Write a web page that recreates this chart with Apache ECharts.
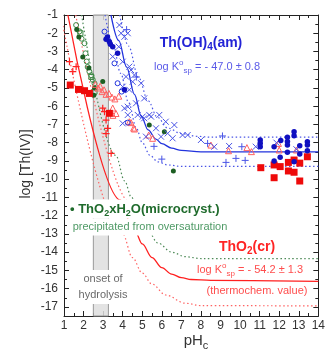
<!DOCTYPE html>
<html><head><meta charset="utf-8">
<script src="https://cdn.jsdelivr.net/npm/echarts@6/dist/echarts.min.js"></script>
<style>html,body{margin:0;padding:0;background:#fff}#c{width:328px;height:354px}</style>
</head><body><div id="c"></div>
<script>
// ---------- axis ticks ----------
const xTicks = [1,2,3,4,5,6,7,8,9,10,11,12,13,14];
const yTicks = [-1,-2,-3,-4,-5,-6,-7,-8,-9,-10,-11,-12,-13,-14,-15,-16,-17];
const yMin = -17.5, yMax = -1;
const hydrolysisBand = [2.5, 3.27];

// ---------- curves ----------
const thOH4Fit   = [[3.4,-1],[3.8,-2.4],[4.2,-3.85],[4.6,-5.35],[4.95,-6.55],[5.3,-7.3],[5.7,-7.8],[6.0,-8.05],[6.5,-8.3],[7.0,-8.42],[8.0,-8.5],[14,-8.5]];
const thOH4Upper = [[3.85,-1],[4.3,-2.7],[4.8,-4.4],[5.3,-5.7],[5.77,-6.6],[6.3,-7.2],[7.0,-7.5],[7.8,-7.65],[8.5,-7.7],[14,-7.7]];
const thOH4Lower = [[3.1,-1],[3.5,-2.6],[3.9,-4.2],[4.3,-5.8],[4.7,-7.2],[5.0,-8.0],[5.4,-8.7],[5.8,-9.05],[6.3,-9.22],[7,-9.3],[14,-9.3]];
const thO2crFit   = [[1.2,-1],[3.9,-11.15],[4.3,-12.2],[4.65,-12.9],[5.0,-13.55],[5.5,-14.3],[6.0,-14.85],[6.5,-15.2],[7.0,-15.4],[7.5,-15.5],[8.5,-15.55],[14,-15.6]];
const thO2crLower = [[0.95,-1.6],[4.0,-13.0],[4.5,-14.3],[5.0,-15.15],[5.5,-15.75],[6.2,-16.35],[7.2,-16.8],[8,-16.93],[14,-16.95]];
const thO2crUpper = [[1.6,-1],[4.4,-11.3],[4.8,-12.3]];
const microFit    = [[1.9,-1],[3.65,-8.7],[4.1,-10.1],[4.45,-11.0],[4.9,-12.1],[5.3,-12.85],[5.8,-13.5],[6.5,-14.0],[7.2,-14.25],[8,-14.35],[14,-14.35]];

// ---------- data points ----------
const greenFilled = [[1.65,-1.8],[1.76,-2.2],[1.96,-3.3],[2.27,-3.9],[2.56,-5.0],[2.52,-5.4],[2.98,-4.65],[5.36,-7.03],[6.13,-7.4],[6.59,-9.55]];
const greenOpenCircle = [[1.62,-1.55],[1.79,-1.9],[1.9,-2.3],[2.05,-2.55],[2.1,-3.1],[2.16,-3.55],[2.21,-3.85],[2.3,-4.1],[2.39,-4.3],[2.47,-4.55],[2.56,-4.75]];
const greenOpenSquare = [[1.84,-2.0],[2.4,-4.4],[2.56,-5.2]];
const redSquares = [[1.32,-4.84],[1.74,-5.08],[2.05,-5.15],[2.3,-5.3],[3.32,-6.39],
  [11.06,-9.37],[11.74,-9.22],[12.05,-9.31],[11.74,-9.92],[12.47,-9.08],[12.47,-9.55],[12.76,-8.95],[12.76,-9.62],[13.05,-9.12],[13.05,-10.1],[13.44,-8.77]];
const redTriangles = [[2.6,-4.8],[2.75,-5.0],[2.85,-4.9],[2.95,-5.2],[3.05,-5.1],[3.15,-5.35],[3.3,-5.3],[3.45,-5.5],[3.6,-5.6],[3.8,-5.45],[3.49,-6.1],[3.66,-6.4],[3.5,-6.5],[4.34,-6.85],[4.56,-7.2],[4.43,-6.9],[4.6,-7.25],[5.33,-7.58],[5.53,-7.76],
  [8.51,-8.13],[9.41,-8.44],[10.35,-8.27],[10.58,-8.49],[11.96,-8.04],[12.0,-8.4],[12.88,-8.4]];
const redPlus = [[1.28,-3.56],[1.62,-3.83],[1.45,-4.1],[2.98,-6.11],[3.07,-6.3],[3.15,-6.76],[3.23,-7.21],[3.15,-7.5],[3.41,-8.58]];
const blueFilled = [[3.15,-2.33],[3.22,-2.2],[3.32,-2.46],[3.37,-2.6],[3.49,-2.74],[3.74,-3.1],[4.09,-5.1],
  [11.03,-7.85],[11.03,-8.03],[11.03,-8.22],[11.74,-8.22],[11.74,-9.0],[12.08,-7.88],[12.05,-8.8],[12.42,-7.7],[12.42,-7.93],[12.42,-8.13],[12.42,-8.52],[12.76,-7.4],[12.76,-7.62],[12.76,-9.04],[13.05,-8.17],[13.05,-8.62],[13.44,-7.95],[13.44,-8.13],[13.44,-8.44]];
const blueOpen = [[3.07,-1.91],[3.58,-3.65],[3.74,-4.74],[3.95,-5.2],[4.26,-6.9]];
const blueCross = [[3.83,-1.55],[3.92,-2.0],[4.09,-2.19],[4.26,-2.0],[3.49,-3.28],[3.8,-2.74],[4.0,-4.93],[4.43,-4.02],[4.51,-4.66],[4.68,-5.84],[4.09,-6.11],[4.26,-6.48],[5.02,-6.57],[5.36,-6.48],
  [4.0,-3.56],[4.34,-3.83],[4.17,-4.38],[4.6,-4.29],[4.34,-5.1],[4.94,-4.74],[5.1,-5.57],[4.26,-6.03],[4.0,-6.94],[4.77,-6.48],[5.1,-6.66],[5.45,-6.57],[5.87,-6.48],[6.2,-6.85],[6.64,-7.03],[5.7,-7.21],[5.96,-7.67],[6.3,-7.49],[5.19,-7.67],[6.55,-7.76],[7.06,-7.58],[7.32,-7.58],
  [8.0,-7.85],[8.68,-8.22],[9.44,-8.18],[10.8,-8.22],[11.86,-8.0],[12.88,-8.36]];
const bluePlus = [[4.2,-1.8],[4.7,-4.4],[5.6,-8.2],[6.0,-8.9],[8.34,-8.04],[9.1,-7.63],[9.28,-9.08],[9.79,-8.86],[10.09,-8.22],[10.26,-8.97]];

// ---------- colours ----------
const BLUE='#2233dd', BLUE_D='#1010c0', BLUE_L='#4a55e6';
const RED='#ff2020', RED_L='#ff6262', GREEN_D='#1c5e22', GREEN='#3f8a47';
const CROSS='path://M0 0L8 8M8 0L0 8', PLUS='path://M4 0L4 8M0 4L8 4';

function curve(data,color,type,width){
  return {type:'line',data,symbol:'none',smooth:0.35,smoothMonotone:'x',silent:true,z:3,
    lineStyle:{color,type,width:width||1.2},xAxisIndex:0,yAxisIndex:0};
}
function pts(data,symbol,size,fill,stroke,bw){
  return {type:'scatter',data,symbol,symbolSize:size,z:4,silent:true,xAxisIndex:0,yAxisIndex:0,
    itemStyle:{color:fill,borderColor:stroke,borderWidth:bw||0,opacity:1}};
}

const FONT='Liberation Sans, Arial, sans-serif';
const axLine={lineStyle:{color:'#222',width:1}};
function xAx(pos,labels){
  return {type:'value',position:pos,min:xTicks[0],max:xTicks[xTicks.length-1],interval:1,
    axisLine:axLine,splitLine:{show:false},
    axisTick:{inside:true,length:5,lineStyle:{color:'#222'}},
    minorTick:{show:true,splitNumber:2,length:3,lineStyle:{color:'#222'}},
    axisLabel:{show:labels,color:'#333',fontSize:12,fontFamily:FONT,margin:4}};
}
function yAx(pos,labels,major){
  const a={type:'value',position:pos,min:yMin,max:yMax,splitLine:{show:false},
    axisLine:major?{show:false}:axLine};
  if(major){
    a.axisTick={inside:true,length:5,customValues:yTicks,lineStyle:{color:'#222'}};
    a.axisLabel={show:labels,customValues:yTicks,color:'#333',fontSize:12,fontFamily:FONT,margin:6};
  } else {
    a.interval=0.5;
    a.axisTick={inside:true,length:3,lineStyle:{color:'#222'}};
    a.axisLabel={show:false};
  }
  return a;
}

function rt(x,y,text,rich,opt){
  opt=opt||{};
  return {type:'text',x,y,z:50,rotation:opt.rot||0,silent:true,
    style:Object.assign({text,rich,align:opt.align||'center',verticalAlign:'middle',fontFamily:FONT},
      opt.bg?{backgroundColor:'#fff',padding:opt.pad||[1,2]}:{})};
}
function richSet(color,size,bold){
  const w=bold?'bold':'normal';
  return {
    n:{fill:color,fontSize:size,fontWeight:w,fontFamily:FONT,lineHeight:size+5,verticalAlign:'middle'},
    s:{fill:color,fontSize:Math.round(size*0.72),fontWeight:w,fontFamily:FONT,lineHeight:Math.round(size*0.72),verticalAlign:'bottom'},
    p:{fill:color,fontSize:Math.round(size*0.72),fontWeight:w,fontFamily:FONT,lineHeight:Math.round(size*0.72),verticalAlign:'top'}
  };
}

const chart=echarts.init(document.getElementById('c'),null,{renderer:'canvas'});
chart.setOption({
  animation:false,
  backgroundColor:'#fff',
  grid:{left:64,right:9,top:15,bottom:38},
  xAxis:[xAx('bottom',true),xAx('top',false)],
  yAxis:[yAx('left',false,false),yAx('left',true,true),yAx('right',false,false),yAx('right',false,true)],
  series:[
    {type:'line',data:[],z:1,markArea:{silent:true,itemStyle:{color:'rgba(222,222,222,0.85)',borderColor:'#999',borderWidth:1},
      data:[[{coord:[hydrolysisBand[0],yMin]},{coord:[hydrolysisBand[1],yMax]}]]}},
    curve(thO2crFit,RED,'solid',1.3),
    curve(thO2crLower,RED_L,[1.5,2.5],1.2),
    curve(thO2crUpper,RED_L,[1.5,2.5],1.2),
    curve(microFit,'#4d8a57',[1.5,2.5],1.2),
    curve(thOH4Fit,BLUE,'solid',1.3),
    curve(thOH4Upper,BLUE_L,[1.5,2.5],1.2),
    curve(thOH4Lower,BLUE_L,[1.5,2.5],1.2),
    pts(greenOpenCircle,'circle',5,'rgba(255,255,255,0)',GREEN,1),
    pts(greenOpenSquare,'rect',5,'rgba(255,255,255,0)',GREEN,1),
    pts(greenFilled,'circle',5,GREEN_D,GREEN_D,0),
    pts(redTriangles,'triangle',6,'rgba(255,255,255,0)',RED_L,1),
    pts(redPlus,PLUS,7,'none',RED,1.2),
    pts(redSquares,'rect',7,'#ee0a0a','#ee0a0a',0),
    pts(blueCross,CROSS,6,'none',BLUE_L,1),
    pts(bluePlus,PLUS,7,'none',BLUE_L,1),
    pts(blueOpen,'circle',5,'rgba(255,255,255,0)',BLUE,1),
    pts(blueFilled,'circle',5.5,BLUE_D,BLUE_D,0)
  ],
  graphic:[
    rt(201,43,'{n|Th(OH)}{s|4}{n|(am)}',richSet('#2323d6',14,true)),
    rt(207,67,'{n|log K}{p|o}{s|sp}{n| = - 47.0 ± 0.8}',richSet('#5a5ae8',11,false)),
    rt(68,209,'{n|• ThO}{s|2}{n|xH}{s|2}{n|O(microcryst.)}',richSet('#1f6b2c',13,true),{align:'left',bg:true,pad:[1,2,0,2]}),
    rt(150,227,'{n|precipitated from oversaturation}',richSet('#4f9a66',11,false),{bg:true,pad:[0,2,1,2]}),
    rt(247,247,'{n|ThO}{s|2}{n|(cr)}',richSet('#ff2424',14,true)),
    rt(250,270,'{n|log K}{p|o}{s|sp}{n| = - 54.2 ± 1.3}',richSet('#ff4d4d',11,false)),
    rt(257,291,'{n|(thermochem. value)}',richSet('#ff4d4d',11,false)),
    rt(103,287,'{n|onset of}\n{n|hydrolysis}',richSet('#6a6a6a',11,false),{bg:true,pad:[1,1]}),
    rt(196,341,'{n|pH}{s|c}',richSet('#333',15,false)),
    rt(26,164,'{n|log [Th(IV)]}',richSet('#333',14,false),{rot:Math.PI/2})
  ]
});
</script>
</body></html>
